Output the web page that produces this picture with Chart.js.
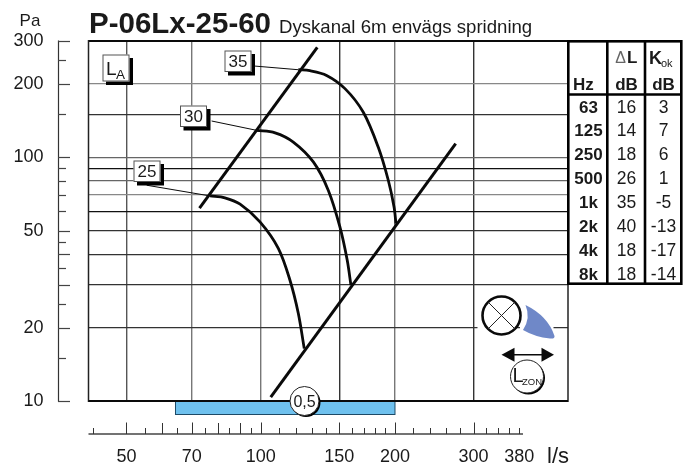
<!DOCTYPE html>
<html><head><meta charset="utf-8">
<script src="https://cdn.jsdelivr.net/npm/chart.js@4"></script>
<style>html,body{margin:0;padding:0;background:#fff}canvas{display:block}</style>
</head><body><canvas id="c" width="694" height="466"></canvas>
<script>
const titleMain = 'P-06Lx-25-60';
const titleSub = 'Dyskanal 6m envägs spridning';
const xLabels = [50, 70, 100, 150, 200, 300, 380];
const xGridColors = ['#555', '#777', '#777', '#333', '#777', '#333', 'rgba(0,0,0,0)'];
const xMinor = [42, 55, 65, 75, 85, 95, 110, 120, 130, 140, 160, 170, 180, 190, 220, 240, 260, 280, 320, 340, 360, 380];
const xMedium = [60, 80, 90];
const yGrid = [10, 20, 30, 40, 50, 60, 70, 80, 90, 100, 150, 200, 300];
const yGridColors = ['#111', '#333', '#333', '#333', '#333', '#111', '#888', '#666', '#111', '#666', '#333', '#888', '#111'];
const yLabels = [10, 20, 50, 100, 200, 300];
const yLongTicks = [10, 20, 30, 40, 50, 100, 200, 300];
const yShortTicks = [15, 25, 35, 45, 60, 70, 80, 90, 150, 250];

const limitLowX = [72.9, 133.9];
const limitLowY = [61.8, 282.4];
const limitHighX = [105.3, 273.6];
const limitHighY = [10.38, 113.8];
const curve25X = [77.0, 83.1, 89.9, 99.6, 109.5, 116.3, 121.4, 125.2];
const curve25Y = [69.4, 68.2, 64.2, 54.3, 42.3, 31.3, 22.9, 16.4];
const curve30X = [97.9, 107.7, 118.3, 131.2, 141.7, 150.5, 156.3, 159.3];
const curve30Y = [129, 126, 115.5, 95.7, 73.3, 51.8, 37.8, 29.9];
const curve35X = [121.4, 128.9, 140.5, 154.5, 169.7, 183.4, 193.2, 199, 201];
const curve35Y = [228.7, 226.6, 216.8, 191.3, 153.3, 110.2, 80.5, 62.6, 53.5];
const leader25X = [55.5, 77.0];
const leader25Y = [76.8, 69.4];
const leader30X = [77.6, 97.9];
const leader30Y = [140.9, 129];
const leader35X = [97.1, 121.4];
const leader35Y = [236.7, 228.7];
const zoneRange = [64.4, 200];
const zoneLabel = '0,5';

const tableHz = ['63', '125', '250', '500', '1k', '2k', '4k', '8k'];
const tableDeltaL = ['16', '14', '18', '26', '35', '40', '18', '18'];
const tableKok = ['3', '7', '6', '1', '-5', '-13', '-17', '-14'];

const FONT = '"Liberation Sans", Arial, sans-serif';
const pts = (xs, ys) => xs.map((x, i) => ({x, y: ys[i]}));
const lineSet = (xs, ys, w, tension) => ({
  data: pts(xs, ys), borderColor: '#0a0a0a', borderWidth: w, pointRadius: 0,
  tension: tension, fill: false, borderCapStyle: 'butt', borderJoinStyle: 'round'
});

function txt(c, s, x, y, font, align, color) {
  c.font = font + ' ' + FONT;
  c.textAlign = align || 'left';
  c.textBaseline = 'alphabetic';
  c.fillStyle = color || '#1a1a1a';
  c.fillText(s, x, y);
}
function line(c, x1, y1, x2, y2, w, color) {
  c.strokeStyle = color || '#222';
  c.lineWidth = w;
  c.beginPath(); c.moveTo(x1, y1); c.lineTo(x2, y2); c.stroke();
}
function box(c, x, y, w, h, sh) {
  c.fillStyle = '#000';
  c.fillRect(x + sh, y + sh, w, h);
  c.fillStyle = '#fff';
  c.fillRect(x, y, w, h);
  c.strokeStyle = '#555';
  c.lineWidth = 1;
  c.strokeRect(x + .5, y + .5, w - 1, h - 1);
}
function roundBadge(c, cx, cy, r) {
  c.fillStyle = '#000';
  c.beginPath(); c.arc(cx + 1.5, cy + 1.5, r, 0, 7); c.fill();
  c.fillStyle = '#fff'; c.strokeStyle = '#222'; c.lineWidth = 1;
  c.beginPath(); c.arc(cx, cy, r, 0, 7); c.fill(); c.stroke();
}

const decor = {
  id: 'decor',
  beforeDraw(chart) {
    const c = chart.ctx;
    c.save();
    c.fillStyle = '#fff';
    c.fillRect(0, 0, chart.width, chart.height);
    c.restore();
  },
  afterDatasetsDraw(chart) {
    const c = chart.ctx, sx = chart.scales.x, sy = chart.scales.y, a = chart.chartArea;
    c.save();

    // plot frame
    line(c, a.left, a.top, a.right, a.top, 2, '#0a0a0a');
    line(c, a.left, a.bottom, a.right, a.bottom, 2, '#0a0a0a');
    line(c, a.left, a.top - 1, a.left, a.bottom + 1, 1.5, '#222');
    line(c, a.right, a.top - 1, a.right, a.bottom + 1, 1.5, '#222');

    // left pressure ruler
    line(c, 58.5, sy.getPixelForValue(300) - .5, 58.5, sy.getPixelForValue(10) + .5, 1.2, '#333');
    yLongTicks.forEach(v => { const p = Math.round(sy.getPixelForValue(v)) + .5; line(c, 58, p, 70, p, 1.2, '#444'); });
    yShortTicks.forEach(v => { const p = Math.round(sy.getPixelForValue(v)) + .5; line(c, 58, p, 66, p, 1.2, '#444'); });

    // bottom flow ruler
    const base = 434;
    line(c, a.left, base, 523, base, 1.3, '#444');
    xMinor.forEach(v => { const p = Math.round(sx.getPixelForValue(v)) + .5; line(c, p, base, p, base - 6, 1, '#333'); });
    xMedium.forEach(v => { const p = Math.round(sx.getPixelForValue(v)) + .5; line(c, p, base, p, base - 11, 1, '#333'); });
    xLabels.slice(0, 6).forEach(v => { const p = Math.round(sx.getPixelForValue(v)) + .5; line(c, p, base, p, base - 11.5, 1, '#333'); });
    txt(c, 'l/s', 547, 463, '22px');

    // zone bar
    const zx1 = sx.getPixelForValue(zoneRange[0]), zx2 = sx.getPixelForValue(zoneRange[1]);
    c.fillStyle = '#6fc1ee';
    c.fillRect(zx1, a.bottom, zx2 - zx1, 13.5);
    c.strokeStyle = '#1d4a66'; c.lineWidth = 1;
    c.strokeRect(zx1, a.bottom, zx2 - zx1, 13.5);
    line(c, a.left, a.bottom, a.right, a.bottom, 2, '#0a0a0a');
    roundBadge(c, 304.5, 401, 14.5);
    txt(c, zoneLabel, 304.5, 406.5, '16px', 'center');

    // level boxes
    box(c, 102.5, 54.5, 27, 27, 3.5);
    txt(c, 'L', 106, 75, '19px');
    txt(c, 'A', 116, 79, '13.5px');
    box(c, 224.5, 50.5, 27, 21.5, 3.5);
    txt(c, '35', 238, 67, '17px', 'center');
    box(c, 180, 105.5, 27, 21.5, 3.5);
    txt(c, '30', 193.5, 122, '17px', 'center');
    box(c, 133.5, 160.5, 27, 21.5, 3.5);
    txt(c, '25', 147, 177, '17px', 'center');

    // diffuser symbol
    c.fillStyle = '#fff';
    c.fillRect(477.5, 322, 22, 11);
    c.fillRect(520, 322, 33.5, 11);
    c.beginPath(); c.arc(501.5, 315.5, 19, 0, 7); c.fill();
    c.strokeStyle = '#0a0a0a'; c.lineWidth = 2.6; c.stroke();
    const d = 13.4;
    line(c, 501.5 - d, 315.5 - d, 501.5 + d, 315.5 + d, 1, '#222');
    line(c, 501.5 - d, 315.5 + d, 501.5 + d, 315.5 - d, 1, '#222');
    c.fillStyle = '#6f88c8';
    c.beginPath(); c.moveTo(525.5, 305);
    c.quadraticCurveTo(548, 316, 554.5, 336);
    c.quadraticCurveTo(555, 339, 550, 338.5);
    c.quadraticCurveTo(535, 337, 523, 330);
    c.quadraticCurveTo(531, 318, 525.5, 305);
    c.fill();

    // arrow
    line(c, 510, 354.7, 546, 354.7, 1.4, '#0a0a0a');
    c.fillStyle = '#0a0a0a';
    c.beginPath(); c.moveTo(501.5, 354.7); c.lineTo(514.5, 347.7); c.lineTo(514.5, 361.7); c.fill();
    c.beginPath(); c.moveTo(554, 354.7); c.lineTo(541.5, 347.7); c.lineTo(541.5, 361.7); c.fill();
    roundBadge(c, 527, 376.5, 16.5);
    txt(c, 'L', 512.5, 382, '20px');
    txt(c, 'ZON', 522, 385, '9.5px');

    // title
    txt(c, titleMain, 89, 33, 'bold 29.5px');
    txt(c, titleSub, 279, 33, '18.6px');
    txt(c, 'Pa', 30, 26, '17px', 'center');

    // side table
    c.fillStyle = '#fff';
    c.fillRect(568, 41, 113, 242);
    c.strokeStyle = '#000'; c.lineWidth = 2.6;
    c.strokeRect(568.3, 41.3, 113, 242.4);
    line(c, 607.3, 41, 607.3, 284, 2.6, '#000');
    line(c, 645, 41, 645, 284, 2.6, '#000');
    line(c, 568, 94.5, 681, 94.5, 2.6, '#000');
    txt(c, '\u0394', 620.5, 62.5, '16px', 'center', '#666');
    txt(c, 'L', 627, 62.5, 'bold 17px');
    txt(c, 'K', 649, 64, 'bold 18px');
    txt(c, 'ok', 661, 67, '11px');
    txt(c, 'Hz', 573, 90, 'bold 17px');
    txt(c, 'dB', 626.5, 90, 'bold 17px', 'center');
    txt(c, 'dB', 663.5, 90, 'bold 17px', 'center');
    tableHz.forEach((h, i) => {
      const y = 112.5 + i * 23.9;
      txt(c, h, 588.5, y, 'bold 17px', 'center');
      txt(c, tableDeltaL[i], 626.5, y, '17.5px', 'center');
      txt(c, tableKok[i], 663.5, y, '17.5px', 'center');
    });
    c.restore();
  }
};

new Chart(document.getElementById('c'), {
  type: 'line',
  data: { datasets: [
    lineSet(leader25X, leader25Y, 1, 0),
    lineSet(leader30X, leader30Y, 1, 0),
    lineSet(leader35X, leader35Y, 1, 0),
    lineSet(curve25X, curve25Y, 2.8, 0.33),
    lineSet(curve30X, curve30Y, 2.8, 0.33),
    lineSet(curve35X, curve35Y, 2.8, 0.33),
    lineSet(limitLowX, limitLowY, 3, 0),
    lineSet(limitHighX, limitHighY, 3, 0)
  ]},
  options: {
    responsive: false,
    animation: false,
    parsing: false,
    normalized: false,
    layout: { padding: { top: 41, right: 126, left: 0, bottom: 0 } },
    plugins: { legend: { display: false }, title: { display: false }, tooltip: { enabled: false } },
    scales: {
      x: {
        type: 'logarithmic', min: 41.1, max: 488.6,
        afterFit(s) { s.height = 65; s.paddingLeft = 0; s.paddingRight = 0; },
        afterBuildTicks(s) { s.ticks = xLabels.map(v => ({value: v})); },
        grid: { drawTicks: false, lineWidth: 1.4,
          color: ctx => xGridColors[xLabels.indexOf(ctx.tick && ctx.tick.value)] || 'rgba(0,0,0,0)' },
        border: { display: false },
        ticks: { autoSkip: false, maxRotation: 0, padding: 45, color: '#1a1a1a',
          font: { family: FONT, size: 18 }, callback: v => String(v) }
      },
      y: {
        type: 'logarithmic', min: 10, max: 300,
        afterFit(s) { s.width = 88.5; s.paddingTop = 0; s.paddingBottom = 0; },
        afterBuildTicks(s) { s.ticks = yGrid.map(v => ({value: v})); },
        grid: { drawTicks: false, lineWidth: 1.3,
          color: ctx => yGridColors[yGrid.indexOf(ctx.tick && ctx.tick.value)] || 'rgba(0,0,0,0)' },
        border: { display: false },
        ticks: { autoSkip: false, padding: 45, color: '#1a1a1a',
          font: { family: FONT, size: 18 },
          callback: v => yLabels.includes(v) ? String(v) : '' }
      }
    }
  },
  plugins: [decor]
});
</script>
</body></html>
